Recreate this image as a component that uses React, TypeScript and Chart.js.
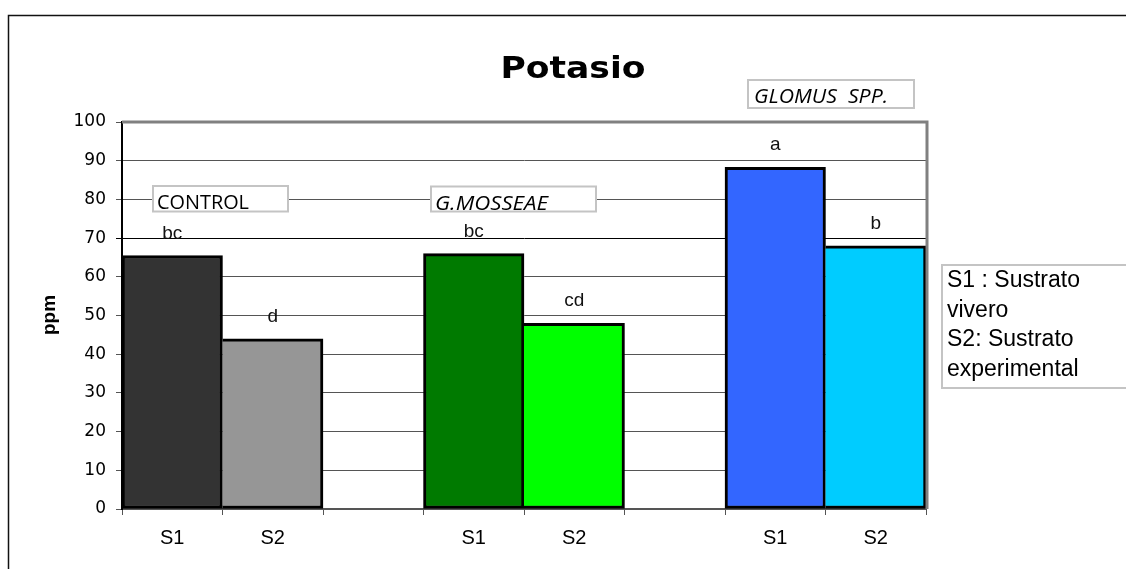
import { useEffect, useRef } from "react";
import { Chart, registerables } from "chart.js";

Chart.register(...registerables);

// Potassium content (ppm) for each treatment / substrate pair
const categories = ["S1", "S2", "", "S1", "S2", "", "S1", "S2"];
const potassium: (number | null)[] = [65.5, 44, null, 66, 48, null, 88.3, 68];
const significance = ["bc", "d", "", "bc", "cd", "", "a", "b"];
const groups = ["CONTROL", "G.MOSSEAE", "GLOMUS  SPP."];
const legendLines = ["S1 : Sustrato", "vivero", "S2: Sustrato", "experimental"];
const chartTitle = "Potasio";
const yTitle = "ppm";

const BAR_FILLS = ["#333333", "#969696", "#ffffff", "#007a00", "#00ff00", "#ffffff", "#3366ff", "#00ccff"];

function fitText(
  ctx: CanvasRenderingContext2D,
  text: string,
  x: number,
  y: number,
  font: string,
  width: number | null,
  align: CanvasTextAlign
) {
  ctx.save();
  ctx.font = font;
  const w = ctx.measureText(text).width;
  const sx = width ? width / w : 1;
  ctx.translate(x, y);
  ctx.scale(sx, 1);
  ctx.textAlign = align;
  ctx.textBaseline = "alphabetic";
  ctx.fillText(text, 0, 0);
  ctx.restore();
}

function labelBox(ctx: CanvasRenderingContext2D, x0: number, y0: number, x1: number, y1: number) {
  ctx.save();
  ctx.fillStyle = "#ffffff";
  ctx.fillRect(x0, y0, x1 - x0, y1 - y0);
  ctx.strokeStyle = "#c4c4c4";
  ctx.lineWidth = 2;
  ctx.strokeRect(x0, y0, x1 - x0, y1 - y0);
  ctx.restore();
}

const decorations = {
  id: "decorations",
  afterDraw(chart: Chart) {
    const ctx = chart.ctx;
    const area = chart.chartArea;
    ctx.save();

    // outer frame (top and left edges)
    ctx.strokeStyle = "#111";
    ctx.lineWidth = 1.5;
    ctx.beginPath();
    ctx.moveTo(8.5, 600);
    ctx.lineTo(8.5, 15.5);
    ctx.lineTo(1130, 15.5);
    ctx.stroke();

    // plot frame top and right
    ctx.strokeStyle = "#808080";
    ctx.lineWidth = 3;
    ctx.beginPath();
    ctx.moveTo(area.left, area.top);
    ctx.lineTo(area.right + 1, area.top);
    ctx.lineTo(area.right + 1, area.bottom);
    ctx.stroke();

    ctx.fillStyle = "#000";
    fitText(ctx, chartTitle, 573, 78, "bold 31px 'DejaVu Sans'", 145, "center");

    // vertical axis title
    ctx.save();
    ctx.translate(55, 315);
    ctx.rotate(-Math.PI / 2);
    ctx.font = "bold 19px 'Liberation Sans'";
    ctx.textAlign = "center";
    ctx.fillStyle = "#000";
    ctx.fillText(yTitle, 0, 0);
    ctx.restore();

    // treatment name boxes
    labelBox(ctx, 153, 186, 288, 211.5);
    fitText(ctx, groups[0], 157, 209, "20px 'Open Sans'", 92, "left");
    labelBox(ctx, 431, 186.5, 596, 211.5);
    fitText(ctx, groups[1], 435, 210, "italic 20px 'Open Sans'", 113, "left");
    labelBox(ctx, 748, 80, 914, 108);
    fitText(ctx, groups[2], 754, 103, "italic 20px 'Open Sans'", 134, "left");

    // significance letters above each bar
    const meta = chart.getDatasetMeta(0);
    meta.data.forEach((el: any, i: number) => {
      const txt = significance[i];
      if (!txt || potassium[i] == null) return;
      ctx.fillStyle = "#111";
      ctx.font = "19px 'Liberation Sans'";
      ctx.textAlign = "center";
      ctx.textBaseline = "alphabetic";
      ctx.fillText(txt, el.x, el.y - 17);
    });

    // substrate key
    labelBox(ctx, 942, 265, 1132, 388);
    ctx.fillStyle = "#000";
    ctx.font = "23px 'Liberation Sans'";
    ctx.textAlign = "left";
    legendLines.forEach((line, i) => {
      ctx.fillText(line, 947, 287 + i * 29.6);
    });

    ctx.restore();
  },
};

export default function App() {
  const canvasRef = useRef<HTMLCanvasElement | null>(null);

  useEffect(() => {
    const canvas = canvasRef.current;
    if (!canvas) return;
    const chart = new Chart(canvas, {
      type: "bar",
      data: {
        labels: categories,
        datasets: [
          {
            data: potassium,
            backgroundColor: BAR_FILLS,
            borderColor: "#000",
            borderWidth: (c: any) =>
              categories[c.dataIndex] === "S2"
                ? { top: 3, right: 3, bottom: 3, left: 0 }
                : 3,
            borderSkipped: false,
            barPercentage: 1,
            categoryPercentage: 1,
          },
        ],
      },
      options: {
        responsive: false,
        animation: false,
        layout: { padding: { top: 122, right: 200, bottom: 0, left: 0 } },
        plugins: {
          legend: { display: false },
          tooltip: { enabled: false },
          title: { display: false },
        },
        scales: {
          x: {
            afterFit: (s: any) => {
              s.height = 60;
            },
            grid: {
              drawOnChartArea: false,
              drawTicks: true,
              tickLength: 6,
              color: "#555",
              offset: true,
            },
            border: { display: true, color: "#555", width: 2 },
            ticks: {
              color: "#000",
              padding: 11,
              font: { family: "'Liberation Sans'", size: 20 },
            },
          },
          y: {
            min: 0,
            max: 100,
            afterFit: (s: any) => {
              s.width = 122;
            },
            grid: {
              color: (c: any) => (c.tick && c.tick.value === 70 ? "#000" : "#555"),
              lineWidth: 1,
              tickLength: 6,
              drawTicks: true,
            },
            border: { display: true, color: "#000", width: 2 },
            ticks: {
              stepSize: 10,
              color: "#000",
              padding: 10,
              font: { family: "'DejaVu Sans'", size: 17 },
            },
          },
        },
      },
      plugins: [decorations],
    });
    return () => chart.destroy();
  }, []);

  return (
    <div style={{ position: "absolute", left: 0, top: 0, width: 1126, height: 569, background: "#fff" }}>
      <canvas ref={canvasRef} width={1126} height={569} />
    </div>
  );
}
